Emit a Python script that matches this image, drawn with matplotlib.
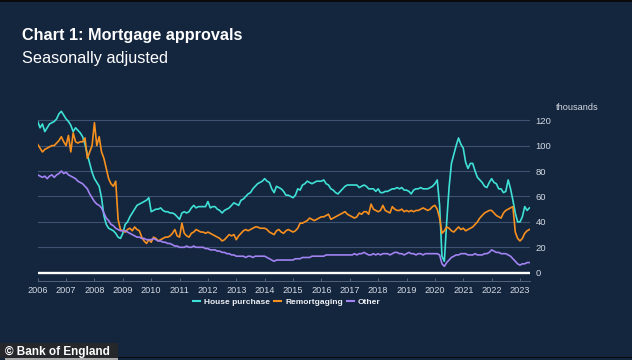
import numpy as np
import pandas as pd
import matplotlib
matplotlib.use("Agg")
import matplotlib.pyplot as plt
from matplotlib.lines import Line2D
from matplotlib.patches import Rectangle

plt.rcParams['font.family'] = ['Liberation Sans', 'DejaVu Sans']

# monthly mortgage approvals, thousands, Jan 2006 - May 2023
house_purchase = [
    119, 114, 117, 111, 114, 117, 118, 119, 121, 125, 127, 124,   # 2006
    121, 119, 116, 111, 114, 112, 110, 107, 101, 93, 86, 79,      # 2007
    74, 71, 68, 59, 45, 38, 35, 34, 33, 31, 28, 27,               # 2008
    31, 38, 40, 44, 47, 50, 53, 54, 55, 56, 57, 59,               # 2009
    48, 49, 50, 50, 51, 49, 48, 48, 47, 47, 46, 44,               # 2010
    42, 47, 48, 47, 48, 51, 53, 51, 52, 52, 52, 52,               # 2011
    56, 51, 52, 52, 50, 49, 47, 49, 50, 51, 53, 55,               # 2012
    54, 53, 57, 58, 60, 62, 63, 66, 68, 70, 71, 72,               # 2013
    74, 72, 71, 66, 63, 68, 67, 66, 64, 61, 61, 60,               # 2014
    59, 61, 66, 65, 69, 70, 72, 71, 70, 71, 72, 72,               # 2015
    72, 73, 70, 69, 66, 65, 63, 62, 64, 66, 68, 69,               # 2016
    69, 69, 69, 69, 67, 68, 69, 68, 66, 66, 66, 64,               # 2017
    66, 63, 63, 64, 64, 65, 66, 66, 67, 66, 67, 65,               # 2018
    65, 64, 62, 65, 66, 66, 67, 66, 66, 66, 67, 68,               # 2019
    70, 73, 53, 13, 9, 40, 67, 86, 93, 100, 106, 101,             # 2020
    98, 87, 82, 86, 86, 80, 75, 73, 71, 68, 67, 71,               # 2021
    74, 71, 70, 66, 66, 63, 64, 73, 66, 57, 47, 40,               # 2022
    40, 44, 52, 49, 51,                                           # 2023
]
remortgaging = [
    101, 98, 95, 97, 98, 99, 100, 100, 102, 104, 107, 103,
    100, 108, 95, 110, 103, 102, 103, 103, 106, 90, 95, 100,
    118, 100, 107, 95, 90, 82, 74, 70, 68, 72, 42, 34,
    33, 32, 34, 35, 33, 36, 34, 33, 28, 25, 23, 26,
    24, 28, 27, 25, 26, 27, 28, 28, 29, 31, 34, 29,
    28, 39, 31, 29, 28, 31, 32, 34, 33, 32, 32, 31,
    32, 31, 30, 29, 28, 27, 25, 26, 28, 30, 29, 30,
    26, 29, 31, 33, 34, 33, 34, 35, 36, 36, 35, 35,
    35, 34, 32, 31, 30, 33, 34, 32, 31, 33, 34, 33,
    32, 33, 35, 39, 39, 40, 41, 43, 42, 41, 42, 43,
    44, 44, 45, 46, 42, 43, 44, 45, 46, 47, 48, 46,
    45, 44, 43, 44, 47, 46, 48, 48, 46, 54, 50, 49,
    48, 49, 53, 49, 48, 47, 52, 50, 49, 49, 50, 48,
    49, 48, 49, 48, 49, 49, 50, 51, 50, 49, 50, 52,
    53, 50, 43, 31, 33, 36, 35, 33, 32, 34, 36, 34,
    35, 33, 34, 35, 36, 38, 40, 43, 45, 47, 48, 49,
    49, 47, 45, 44, 43, 47, 49, 50, 51, 52, 32, 27,
    25, 27, 31, 33, 34,
]
other = [
    77, 76, 75, 76, 74, 76, 77, 75, 77, 78, 80, 78,
    79, 77, 76, 75, 74, 72, 71, 70, 68, 66, 62, 59,
    56, 54, 53, 51, 47, 43, 41, 38, 37, 35, 34, 33,
    33, 33, 32, 31, 30, 29, 28, 28, 27, 27, 26, 26,
    26, 27, 26, 25, 25, 24, 24, 23, 23, 22, 21, 21,
    20, 20, 20, 21, 20, 20, 21, 20, 20, 20, 20, 19,
    19, 18, 18, 18, 17, 17, 16, 16, 15, 15, 14, 14,
    13, 13, 13, 13, 12, 13, 13, 12, 13, 13, 13, 13,
    13, 12, 11, 10, 9, 10, 10, 10, 10, 10, 10, 10,
    10, 11, 11, 11, 12, 12, 12, 12, 13, 13, 13, 13,
    13, 13, 14, 14, 14, 14, 14, 14, 14, 14, 14, 14,
    14, 14, 15, 14, 15, 15, 16, 15, 14, 14, 15, 14,
    15, 14, 15, 15, 15, 14, 15, 16, 16, 15, 15, 14,
    15, 16, 15, 15, 14, 15, 15, 14, 15, 15, 15, 15,
    15, 15, 14, 7, 5, 8, 10, 12, 13, 14, 14, 15,
    15, 15, 14, 14, 14, 15, 14, 14, 14, 15, 15, 16,
    18, 17, 16, 16, 15, 15, 15, 14, 13, 11, 9, 7,
    6, 7, 7, 8, 8,
]
series_names = ['House purchase', 'Remortgaging', 'Other']
year_ticks = list(range(2006, 2024))
y_ticks = [0, 20, 40, 60, 80, 100, 120]

months = pd.date_range('2006-01-01', periods=len(house_purchase), freq='MS')
x = months.year + (months.month - 1) / 12

bg = '#14253e'
grid_col = '#3d5271'
text_col = '#d3d9e2'
colors = ['#3fe1d6', '#f7901e', '#a283f2']

W, H = 632, 360
fig = plt.figure(figsize=(W / 100, H / 100), dpi=100, facecolor=bg)
ax = fig.add_axes([37.7 / W, 79 / H, (530 - 37.7) / W, 171 / H], facecolor=bg)

ax.set_xlim(2006, 2006 + (530 - 37.7) / 28.37)
ax.set_ylim(-6.5, 128)

for v in y_ticks[1:]:
    ax.axhline(v, color=grid_col, lw=0.8, zorder=1)
ax.axhline(0, color='white', lw=1.7, zorder=2)

for vals, c in zip([house_purchase, remortgaging, other], colors):
    ax.plot(x, vals, color=c, lw=1.2, zorder=3, solid_joinstyle='round')

for s in ['top', 'left', 'right']:
    ax.spines[s].set_visible(False)
ax.spines['bottom'].set_color('#5b6c83')
ax.spines['bottom'].set_linewidth(0.6)

ax.set_xticks(year_ticks)
ax.set_xticklabels([str(y) for y in year_ticks])
ax.tick_params(axis='x', direction='in', length=2.5, width=0.6, color='#5b6c83',
               labelsize=6.6, labelcolor=text_col, pad=3.5)

ax.yaxis.tick_right()
ax.set_yticks(y_ticks)
ax.tick_params(axis='y', length=0, labelsize=6.8, labelcolor=text_col, pad=4)

fig.text(556 / W, 1 - 107 / H, 'thousands', fontsize=6.6, color=text_col, va='center')

fig.text(22 / W, 1 - 40 / H, 'Chart 1: Mortgage approvals', fontsize=11.7,
         fontweight='bold', color='white', va='baseline')
fig.text(22 / W, 1 - 63 / H, 'Seasonally adjusted', fontsize=11.7,
         color='white', va='baseline')

handles = [Line2D([], [], color=c, lw=1.5) for c in colors]
leg = fig.legend(handles, series_names, loc='center', bbox_to_anchor=(287 / W, 1 - 302 / H),
                 ncol=3, frameon=False, handlelength=0.8,
                 handletextpad=0.5, columnspacing=0.5, prop={'weight': 'bold', 'size': 6.0})
for t in leg.get_texts():
    t.set_color('#eef1f5')

# footer strip and credit box
fig.patches.append(Rectangle((0, 1 - 358 / H), 118 / W, 15 / H, transform=fig.transFigure,
                             facecolor='#25272b', edgecolor='none', zorder=5))
fig.patches.append(Rectangle((0, 2 / H), 1, 1.5 / H, transform=fig.transFigure,
                             facecolor='#0a0a0a', edgecolor='none', zorder=4))
fig.patches.append(Rectangle((5 / W, 0), 113 / W, 2 / H, transform=fig.transFigure,
                             facecolor='#a9a9a9', edgecolor='none', zorder=6))
fig.patches.append(Rectangle((0, 1 - 1.5 / H), 1, 1.5 / H, transform=fig.transFigure,
                             facecolor='#0a0a0a', edgecolor='none', zorder=4))
fig.text(5 / W, 1 - 351.5 / H, '\u00a9 Bank of England', fontsize=8.5, fontweight='bold',
         color='white', va='center', zorder=7)

fig.savefig('out.png', dpi=100, facecolor=bg)
